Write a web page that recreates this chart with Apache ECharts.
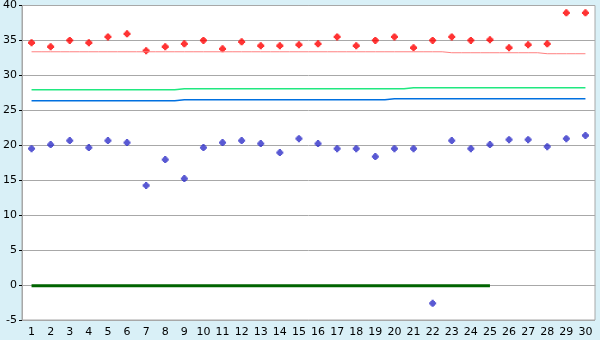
<!DOCTYPE html>
<html>
<head>
<meta charset="utf-8">
<script src="https://cdn.jsdelivr.net/npm/echarts@6/dist/echarts.min.js"></script>
<style>html,body{margin:0;padding:0;background:#d9f0f7;}#c{width:600px;height:340px;}</style>
</head>
<body>
<div id="c"></div>
<script>
var categories = ['1','2','3','4','5','6','7','8','9','10','11','12','13','14','15','16','17','18','19','20','21','22','23','24','25','26','27','28','29','30'];
var redPoints = [34.67,34.1,35.0,34.67,35.5,35.95,33.52,34.1,34.52,35.0,33.8,34.8,34.24,34.24,34.38,34.52,35.5,34.24,35.0,35.5,33.95,35.0,35.5,35.0,35.1,33.95,34.38,34.52,38.95,38.95];
var bluePoints = [19.52,20.1,20.67,19.67,20.67,20.38,14.24,17.95,15.24,19.67,20.38,20.67,20.24,18.95,20.95,20.24,19.52,19.52,18.38,19.52,19.52,-2.62,20.67,19.52,20.1,20.8,20.8,19.8,20.95,21.4];
var pinkLine = [33.38,33.38,33.38,33.38,33.38,33.38,33.38,33.38,33.38,33.38,33.38,33.38,33.38,33.38,33.38,33.38,33.38,33.38,33.38,33.38,33.38,33.38,33.24,33.24,33.24,33.24,33.24,33.1,33.1,33.1];
var greenLine = [27.96,27.96,27.96,27.96,27.96,27.96,27.96,27.96,28.1,28.1,28.1,28.1,28.1,28.1,28.1,28.1,28.1,28.1,28.1,28.1,28.24,28.24,28.24,28.24,28.24,28.24,28.24,28.24,28.24,28.24];
var blueLine = [26.38,26.38,26.38,26.38,26.38,26.38,26.38,26.38,26.52,26.52,26.52,26.52,26.52,26.52,26.52,26.52,26.52,26.52,26.52,26.67,26.67,26.67,26.67,26.67,26.67,26.67,26.67,26.67,26.67,26.67];
var darkLine = [-0.1,-0.1,-0.1,-0.1,-0.1,-0.1,-0.1,-0.1,-0.1,-0.1,-0.1,-0.1,-0.1,-0.1,-0.1,-0.1,-0.1,-0.1,-0.1,-0.1,-0.1,-0.1,-0.1,-0.1,-0.1,null,null,null,null,null];
var yMin = -5, yMax = 40, yStep = 5;

var marker = 'path://M2,0H4V1H5V2H6V4H5V5H4V6H2V5H1V4H0V2H1V1H2Z';
var chart = echarts.init(document.getElementById('c'), null, {renderer:'canvas'});
chart.setOption({
  animation:false,
  backgroundColor:'#d9f0f7',
  grid:{left:20, right:5, top:5, bottom:20, show:true, backgroundColor:'#ffffff', borderColor:'#a8a8a8', borderWidth:1},
  xAxis:{type:'category', data:categories, boundaryGap:true,
    axisLine:{lineStyle:{color:'#a8a8a8'}},
    axisTick:{alignWithLabel:true, length:5, lineStyle:{color:'#000'}},
    axisLabel:{color:'#000', fontFamily:'DejaVu Sans', fontSize:11, margin:7, interval:0},
    splitLine:{show:false}},
  yAxis:{type:'value', min:yMin, max:yMax, interval:yStep,
    axisLine:{show:true, lineStyle:{color:'#a8a8a8'}},
    axisTick:{show:true, length:3, lineStyle:{color:'#000'}},
    axisLabel:{color:'#000', fontFamily:'DejaVu Sans', fontSize:11, margin:5},
    splitLine:{lineStyle:{color:'#a8a8a8'}}},
  series:[
    {type:'line', data:pinkLine, step:'middle', symbol:'none', lineStyle:{color:'#ff8080', width:1}},
    {type:'line', data:greenLine, step:'middle', symbol:'none', lineStyle:{color:'#20e880', width:1.5}},
    {type:'line', data:blueLine, step:'middle', symbol:'none', lineStyle:{color:'#0070e0', width:1.5}},
    {type:'line', data:darkLine, symbol:'none', lineStyle:{color:'#006400', width:3}},
    {type:'scatter', data:redPoints, symbol:marker, symbolSize:7, itemStyle:{color:'#ff0000'}},
    {type:'scatter', data:bluePoints, symbol:marker, symbolSize:7, itemStyle:{color:'#3030c8'}}
  ]
});
</script>
</body>
</html>
